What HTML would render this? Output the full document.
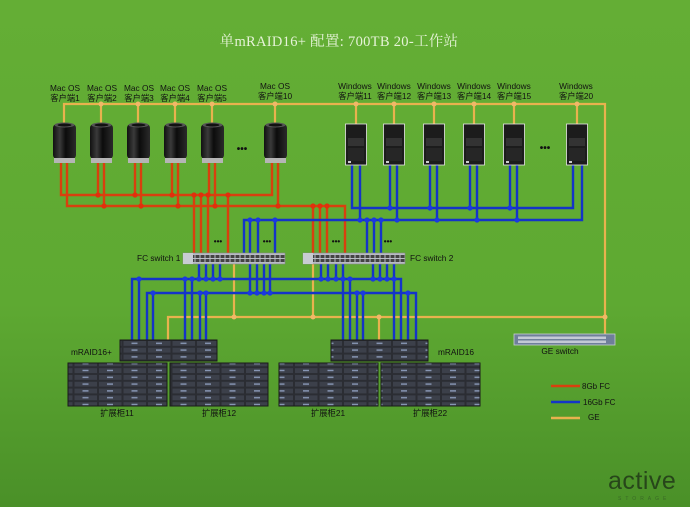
<!DOCTYPE html>
<html><head><meta charset="utf-8"><style>
html,body{margin:0;padding:0;width:690px;height:507px;overflow:hidden}
svg{display:block}
text{font-family:"Liberation Sans","Noto Sans CJK SC",sans-serif}
</style></head><body>
<svg width="690" height="507" viewBox="0 0 690 507" xmlns="http://www.w3.org/2000/svg">
<defs>
<linearGradient id="bg" x1="0" y1="0" x2="0" y2="1">
<stop offset="0" stop-color="#64ae35"/><stop offset="0.6" stop-color="#5ea932"/><stop offset="1" stop-color="#4a9028"/></linearGradient>
<linearGradient id="mac" x1="0" y1="0" x2="1" y2="0">
<stop offset="0" stop-color="#111"/><stop offset="0.3" stop-color="#3a3a3a"/><stop offset="0.55" stop-color="#0c0c0c"/><stop offset="1" stop-color="#2a2a2a"/></linearGradient>
<pattern id="drv" x="0" y="0" width="24.5" height="6.8" patternUnits="userSpaceOnUse">
<rect width="24.5" height="6.8" fill="#2b2d33"/><rect x="1" y="1" width="22.5" height="4.8" fill="#3c404a"/><rect x="9" y="2.6" width="6" height="1.4" fill="#8a9ab8"/></pattern>
<pattern id="sw" x="0" y="0" width="5" height="11" patternUnits="userSpaceOnUse">
<rect width="5" height="11" fill="#b8bcc4"/><rect x="0.5" y="2" width="4" height="3" fill="#444"/><rect x="0.5" y="6" width="4" height="3" fill="#444"/></pattern>
</defs>
<rect width="690" height="507" fill="url(#bg)"/>
<text x="339" y="46" text-anchor="middle" font-size="14.5" fill="#e6f3d8" style="font-family:'Liberation Serif','Noto Serif CJK SC',serif;letter-spacing:0.3px">单mRAID16+ 配置: 700TB 20-工作站</text>

<!-- GE lines -->
<g stroke="#e8b24e" stroke-width="2.2" fill="none">
<polyline points="64,123 64,104 605,104 605,335"/>
<line x1="101" y1="104" x2="101" y2="123"/><line x1="138" y1="104" x2="138" y2="123"/>
<line x1="175" y1="104" x2="175" y2="123"/><line x1="212" y1="104" x2="212" y2="123"/>
<line x1="275" y1="104" x2="275" y2="123"/>
<line x1="356" y1="104" x2="356" y2="124"/><line x1="394" y1="104" x2="394" y2="124"/>
<line x1="434" y1="104" x2="434" y2="124"/><line x1="474" y1="104" x2="474" y2="124"/>
<line x1="514" y1="104" x2="514" y2="124"/><line x1="577" y1="104" x2="577" y2="124"/>
<polyline points="168,340 168,317 605,317"/>
<line x1="234" y1="264" x2="234" y2="317"/><line x1="313" y1="264" x2="313" y2="317"/>
<line x1="379" y1="317" x2="379" y2="340"/>
</g>
<g fill="#f0b868">
<circle cx="101" cy="104" r="2.5"/><circle cx="138" cy="104" r="2.5"/><circle cx="175" cy="104" r="2.5"/><circle cx="212" cy="104" r="2.5"/><circle cx="275" cy="104" r="2.5"/>
<circle cx="356" cy="104" r="2.5"/><circle cx="394" cy="104" r="2.5"/><circle cx="434" cy="104" r="2.5"/><circle cx="474" cy="104" r="2.5"/><circle cx="514" cy="104" r="2.5"/><circle cx="577" cy="104" r="2.5"/>
<circle cx="234" cy="317" r="2.5"/><circle cx="313" cy="317" r="2.5"/><circle cx="379" cy="317" r="2.5"/><circle cx="605" cy="317" r="2.5"/>
</g>

<!-- Red 8Gb FC -->
<g stroke="#d8400e" stroke-width="2.4" fill="none">
<polyline points="61,163 61,195 272,195 272,163"/>
<polyline points="67,163 67,206 345,206 345,253"/>
<line x1="98" y1="163" x2="98" y2="195"/><line x1="104" y1="163" x2="104" y2="206"/>
<line x1="135" y1="163" x2="135" y2="195"/><line x1="141" y1="163" x2="141" y2="206"/>
<line x1="172" y1="163" x2="172" y2="195"/><line x1="178" y1="163" x2="178" y2="206"/>
<line x1="209" y1="163" x2="209" y2="195"/><line x1="215" y1="163" x2="215" y2="206"/>
<line x1="278" y1="163" x2="278" y2="206"/>
<line x1="194" y1="195" x2="194" y2="253"/><line x1="201" y1="195" x2="201" y2="253"/>
<line x1="208" y1="195" x2="208" y2="253"/><line x1="228" y1="195" x2="228" y2="253"/>
<line x1="313" y1="206" x2="313" y2="253"/><line x1="320" y1="206" x2="320" y2="253"/>
<line x1="327" y1="206" x2="327" y2="253"/>
</g>
<g fill="#e0300c">
<circle cx="98" cy="195" r="2.6"/><circle cx="135" cy="195" r="2.6"/><circle cx="172" cy="195" r="2.6"/>
<circle cx="104" cy="206" r="2.6"/><circle cx="141" cy="206" r="2.6"/><circle cx="178" cy="206" r="2.6"/><circle cx="215" cy="206" r="2.6"/><circle cx="278" cy="206" r="2.6"/>
<circle cx="194" cy="195" r="2.6"/><circle cx="201" cy="195" r="2.6"/><circle cx="208" cy="195" r="2.6"/><circle cx="228" cy="195" r="2.6"/>
<circle cx="313" cy="206" r="2.6"/><circle cx="320" cy="206" r="2.6"/><circle cx="327" cy="206" r="2.6"/>
</g>

<!-- Blue 16Gb FC -->
<g stroke="#1434c8" stroke-width="2.4" fill="none">
<polyline points="352,165 352,208 573,208 573,165"/>
<polyline points="244,253 244,220 582,220 582,165"/>
<line x1="360" y1="165" x2="360" y2="220"/>
<line x1="390" y1="165" x2="390" y2="208"/><line x1="397" y1="165" x2="397" y2="220"/>
<line x1="430" y1="165" x2="430" y2="208"/><line x1="437" y1="165" x2="437" y2="220"/>
<line x1="470" y1="165" x2="470" y2="208"/><line x1="477" y1="165" x2="477" y2="220"/>
<line x1="510" y1="165" x2="510" y2="208"/><line x1="517" y1="165" x2="517" y2="220"/>
<line x1="250" y1="220" x2="250" y2="253"/><line x1="258" y1="220" x2="258" y2="253"/><line x1="275" y1="220" x2="275" y2="253"/>
<line x1="367" y1="220" x2="367" y2="253"/><line x1="374" y1="220" x2="374" y2="253"/><line x1="381" y1="220" x2="381" y2="253"/>
<polyline points="132,340 132,279 401,279 401,340"/>
<polyline points="147,340 147,293 416,293 416,340"/>
<line x1="199" y1="264" x2="199" y2="279"/><line x1="206" y1="264" x2="206" y2="279"/><line x1="213" y1="264" x2="213" y2="279"/><line x1="220" y1="264" x2="220" y2="279"/>
<line x1="250" y1="264" x2="250" y2="293"/><line x1="257" y1="264" x2="257" y2="293"/><line x1="264" y1="264" x2="264" y2="293"/><line x1="270" y1="264" x2="270" y2="293"/>
<line x1="321" y1="264" x2="321" y2="279"/><line x1="328" y1="264" x2="328" y2="279"/><line x1="336" y1="264" x2="336" y2="279"/><line x1="343" y1="264" x2="343" y2="340"/>
<line x1="373" y1="264" x2="373" y2="279"/><line x1="380" y1="264" x2="380" y2="279"/><line x1="387" y1="264" x2="387" y2="279"/><line x1="394" y1="264" x2="394" y2="340"/>
<line x1="139" y1="279" x2="139" y2="340"/><line x1="153" y1="293" x2="153" y2="340"/>
<line x1="185" y1="279" x2="185" y2="340"/><line x1="192" y1="279" x2="192" y2="340"/>
<line x1="200" y1="293" x2="200" y2="340"/><line x1="206" y1="293" x2="206" y2="340"/>
<line x1="350" y1="279" x2="350" y2="340"/><line x1="357" y1="293" x2="357" y2="340"/><line x1="363" y1="293" x2="363" y2="340"/>
<line x1="408" y1="293" x2="408" y2="340"/>
</g>
<g fill="#1a3ae0">
<circle cx="390" cy="208" r="2.6"/><circle cx="430" cy="208" r="2.6"/><circle cx="470" cy="208" r="2.6"/><circle cx="510" cy="208" r="2.6"/>
<circle cx="250" cy="220" r="2.6"/><circle cx="258" cy="220" r="2.6"/><circle cx="275" cy="220" r="2.6"/>
<circle cx="360" cy="220" r="2.6"/><circle cx="367" cy="220" r="2.6"/><circle cx="374" cy="220" r="2.6"/><circle cx="381" cy="220" r="2.6"/>
<circle cx="397" cy="220" r="2.6"/><circle cx="437" cy="220" r="2.6"/><circle cx="477" cy="220" r="2.6"/><circle cx="517" cy="220" r="2.6"/>
<circle cx="139" cy="279" r="2.6"/><circle cx="185" cy="279" r="2.6"/><circle cx="192" cy="279" r="2.6"/>
<circle cx="199" cy="279" r="2.6"/><circle cx="206" cy="279" r="2.6"/><circle cx="213" cy="279" r="2.6"/><circle cx="220" cy="279" r="2.6"/>
<circle cx="321" cy="279" r="2.6"/><circle cx="328" cy="279" r="2.6"/><circle cx="336" cy="279" r="2.6"/><circle cx="343" cy="279" r="2.6"/><circle cx="350" cy="279" r="2.6"/>
<circle cx="373" cy="279" r="2.6"/><circle cx="380" cy="279" r="2.6"/><circle cx="387" cy="279" r="2.6"/><circle cx="394" cy="279" r="2.6"/>
<circle cx="153" cy="293" r="2.6"/><circle cx="200" cy="293" r="2.6"/><circle cx="206" cy="293" r="2.6"/>
<circle cx="250" cy="293" r="2.6"/><circle cx="257" cy="293" r="2.6"/><circle cx="264" cy="293" r="2.6"/><circle cx="270" cy="293" r="2.6"/>
<circle cx="357" cy="293" r="2.6"/><circle cx="363" cy="293" r="2.6"/><circle cx="408" cy="293" r="2.6"/>
</g>

<!-- Mac clients -->
<g>
<g transform="translate(64,0)"><rect x="-11" y="124" width="23" height="35" rx="4" fill="url(#mac)"/><ellipse cx="0.5" cy="125" rx="10" ry="2.5" fill="#555"/><ellipse cx="0.5" cy="125" rx="7" ry="1.5" fill="#111"/><rect x="-10" y="158" width="21" height="5" fill="#b5b5b5"/></g>
<g transform="translate(101,0)"><rect x="-11" y="124" width="23" height="35" rx="4" fill="url(#mac)"/><ellipse cx="0.5" cy="125" rx="10" ry="2.5" fill="#555"/><ellipse cx="0.5" cy="125" rx="7" ry="1.5" fill="#111"/><rect x="-10" y="158" width="21" height="5" fill="#b5b5b5"/></g>
<g transform="translate(138,0)"><rect x="-11" y="124" width="23" height="35" rx="4" fill="url(#mac)"/><ellipse cx="0.5" cy="125" rx="10" ry="2.5" fill="#555"/><ellipse cx="0.5" cy="125" rx="7" ry="1.5" fill="#111"/><rect x="-10" y="158" width="21" height="5" fill="#b5b5b5"/></g>
<g transform="translate(175,0)"><rect x="-11" y="124" width="23" height="35" rx="4" fill="url(#mac)"/><ellipse cx="0.5" cy="125" rx="10" ry="2.5" fill="#555"/><ellipse cx="0.5" cy="125" rx="7" ry="1.5" fill="#111"/><rect x="-10" y="158" width="21" height="5" fill="#b5b5b5"/></g>
<g transform="translate(212,0)"><rect x="-11" y="124" width="23" height="35" rx="4" fill="url(#mac)"/><ellipse cx="0.5" cy="125" rx="10" ry="2.5" fill="#555"/><ellipse cx="0.5" cy="125" rx="7" ry="1.5" fill="#111"/><rect x="-10" y="158" width="21" height="5" fill="#b5b5b5"/></g>
<g transform="translate(275,0)"><rect x="-11" y="124" width="23" height="35" rx="4" fill="url(#mac)"/><ellipse cx="0.5" cy="125" rx="10" ry="2.5" fill="#555"/><ellipse cx="0.5" cy="125" rx="7" ry="1.5" fill="#111"/><rect x="-10" y="158" width="21" height="5" fill="#b5b5b5"/></g>
</g>
<!-- Windows towers -->
<g>
<g transform="translate(356,0)"><rect x="-10.5" y="124" width="21" height="41" fill="#1c1c1c" stroke="#e8e8e8" stroke-width="0.8"/><rect x="-8" y="138" width="16" height="8" fill="#333"/><rect x="-8" y="148" width="16" height="13" fill="#262626"/><rect x="-8" y="161" width="3" height="2" fill="#ccc"/></g>
<g transform="translate(394,0)"><rect x="-10.5" y="124" width="21" height="41" fill="#1c1c1c" stroke="#e8e8e8" stroke-width="0.8"/><rect x="-8" y="138" width="16" height="8" fill="#333"/><rect x="-8" y="148" width="16" height="13" fill="#262626"/><rect x="-8" y="161" width="3" height="2" fill="#ccc"/></g>
<g transform="translate(434,0)"><rect x="-10.5" y="124" width="21" height="41" fill="#1c1c1c" stroke="#e8e8e8" stroke-width="0.8"/><rect x="-8" y="138" width="16" height="8" fill="#333"/><rect x="-8" y="148" width="16" height="13" fill="#262626"/><rect x="-8" y="161" width="3" height="2" fill="#ccc"/></g>
<g transform="translate(474,0)"><rect x="-10.5" y="124" width="21" height="41" fill="#1c1c1c" stroke="#e8e8e8" stroke-width="0.8"/><rect x="-8" y="138" width="16" height="8" fill="#333"/><rect x="-8" y="148" width="16" height="13" fill="#262626"/><rect x="-8" y="161" width="3" height="2" fill="#ccc"/></g>
<g transform="translate(514,0)"><rect x="-10.5" y="124" width="21" height="41" fill="#1c1c1c" stroke="#e8e8e8" stroke-width="0.8"/><rect x="-8" y="138" width="16" height="8" fill="#333"/><rect x="-8" y="148" width="16" height="13" fill="#262626"/><rect x="-8" y="161" width="3" height="2" fill="#ccc"/></g>
<g transform="translate(577,0)"><rect x="-10.5" y="124" width="21" height="41" fill="#1c1c1c" stroke="#e8e8e8" stroke-width="0.8"/><rect x="-8" y="138" width="16" height="8" fill="#333"/><rect x="-8" y="148" width="16" height="13" fill="#262626"/><rect x="-8" y="161" width="3" height="2" fill="#ccc"/></g>
</g>

<!-- labels -->
<g font-size="8.3" fill="#111" text-anchor="middle">
<text x="65" y="91">Mac OS</text><text x="65" y="101">客户端1</text>
<text x="102" y="91">Mac OS</text><text x="102" y="101">客户端2</text>
<text x="139" y="91">Mac OS</text><text x="139" y="101">客户端3</text>
<text x="175" y="91">Mac OS</text><text x="175" y="101">客户端4</text>
<text x="212" y="91">Mac OS</text><text x="212" y="101">客户端5</text>
<text x="275" y="89">Mac OS</text><text x="275" y="99">客户端10</text>
<text x="355" y="89">Windows</text><text x="355" y="99">客户端11</text>
<text x="394" y="89">Windows</text><text x="394" y="99">客户端12</text>
<text x="434" y="89">Windows</text><text x="434" y="99">客户端13</text>
<text x="474" y="89">Windows</text><text x="474" y="99">客户端14</text>
<text x="514" y="89">Windows</text><text x="514" y="99">客户端15</text>
<text x="576" y="89">Windows</text><text x="576" y="99">客户端20</text>
</g>
<g font-size="10" font-weight="bold" fill="#111" text-anchor="middle">
<text x="242" y="152">•••</text><text x="545" y="151">•••</text>
<text x="218" y="244" font-size="8">•••</text><text x="267" y="244" font-size="8">•••</text>
<text x="336" y="244" font-size="8">•••</text><text x="388" y="244" font-size="8">•••</text>
</g>

<!-- FC switches -->
<rect x="183" y="253" width="102" height="11" fill="url(#sw)" stroke="#888" stroke-width="0.6"/>
<rect x="183" y="253" width="10" height="11" fill="#c8ccd2"/>
<rect x="303" y="253" width="102" height="11" fill="url(#sw)" stroke="#888" stroke-width="0.6"/>
<rect x="303" y="253" width="10" height="11" fill="#c8ccd2"/>
<text x="137" y="261" font-size="8.3" fill="#111">FC switch 1</text>
<text x="410" y="261" font-size="8.3" fill="#111">FC switch 2</text>

<!-- GE switch -->
<rect x="514" y="334" width="101" height="11" fill="#6f7f9a" stroke="#c8ccd4" stroke-width="0.8"/>
<rect x="518" y="336.5" width="88" height="2.5" fill="#d8dce4" opacity="0.8"/>
<rect x="518" y="340.5" width="88" height="2.5" fill="#d8dce4" opacity="0.8"/>
<text x="560" y="354" font-size="8.3" fill="#111" text-anchor="middle">GE switch</text>

<!-- storage -->
<rect x="120" y="340" width="97" height="21" fill="url(#drv)" stroke="#1a1a1a"/>
<rect x="331" y="340" width="97" height="21" fill="url(#drv)" stroke="#1a1a1a"/>
<rect x="68" y="363" width="99" height="43" fill="url(#drv)" stroke="#1a1a1a"/>
<rect x="170" y="363" width="98" height="43" fill="url(#drv)" stroke="#1a1a1a"/>
<rect x="279" y="363" width="99" height="43" fill="url(#drv)" stroke="#1a1a1a"/>
<rect x="381" y="363" width="99" height="43" fill="url(#drv)" stroke="#1a1a1a"/>
<g font-size="8.3" fill="#111">
<text x="71" y="355">mRAID16+</text>
<text x="438" y="355">mRAID16</text>
<g text-anchor="middle"><text x="117" y="416">扩展柜11</text><text x="219" y="416">扩展柜12</text><text x="328" y="416">扩展柜21</text><text x="430" y="416">扩展柜22</text></g>
</g>

<!-- legend -->
<line x1="551" y1="386" x2="580" y2="386" stroke="#d8400e" stroke-width="2.5"/>
<line x1="551" y1="402" x2="580" y2="402" stroke="#1434c8" stroke-width="2.5"/>
<line x1="551" y1="418" x2="580" y2="418" stroke="#e8b24e" stroke-width="2.5"/>
<g font-size="8" fill="#111"><text x="582" y="389">8Gb FC</text><text x="583" y="405">16Gb FC</text><text x="588" y="420">GE</text></g>

<!-- logo -->
<text x="608" y="489" font-size="25" fill="#27461a" style="letter-spacing:0.5px">active</text>
<text x="618" y="500" font-size="5" fill="#3a6a26" style="letter-spacing:4px">STORAGE</text>
</svg>
</body></html>
